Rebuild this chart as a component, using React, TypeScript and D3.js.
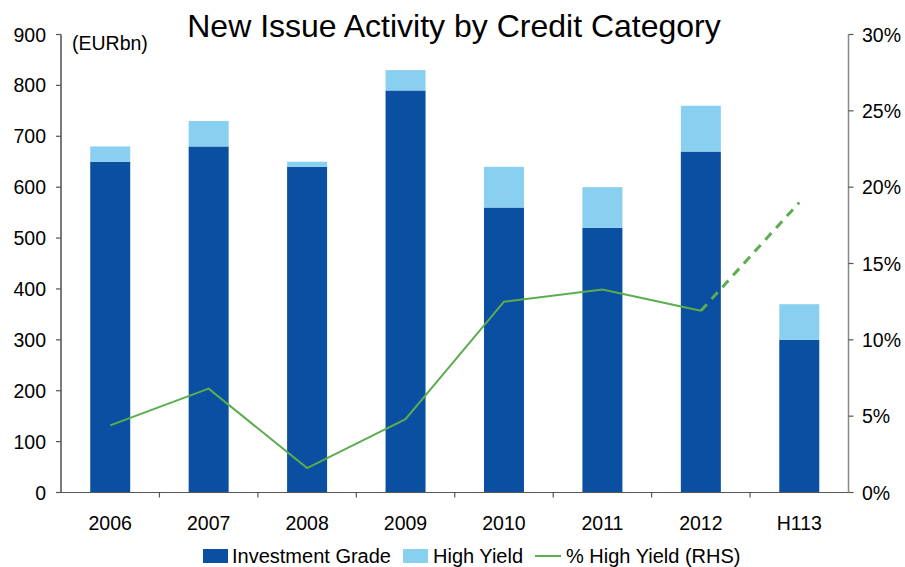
import React from "react";
import * as d3 from "d3";

const categories = ["2006", "2007", "2008", "2009", "2010", "2011", "2012", "H113"];
const investmentGrade = [650, 680, 640, 790, 560, 520, 670, 300];
const highYield = [30, 50, 10, 40, 80, 80, 90, 70];
const pctHighYield = [4.4, 6.8, 1.6, 4.8, 12.5, 13.3, 11.9, 19.0];
const leftTicks = [0, 100, 200, 300, 400, 500, 600, 700, 800, 900];
const rightTicks = [0, 5, 10, 15, 20, 25, 30];

const W = 905, H = 567;
const X0 = 61, X1 = 848.5, Y0 = 492.5, Y1 = 34.5;
const FONT = "Liberation Sans, Arial, sans-serif";
const IG = "#0B4FA2";
const HY = "#89CFF0";
const GREEN = "#5AAE4E";
const FS = 19.5;

export default function App() {
  const x = d3.scaleBand<string>().domain(categories).range([X0, X1]).paddingInner(0).paddingOuter(0);
  const y = d3.scaleLinear().domain([0, 900]).range([Y0, Y1]);
  const yR = d3.scaleLinear().domain([0, 30]).range([Y0, Y1]);
  const bw = 40;
  const cx = (c: string) => (x(c) as number) + x.bandwidth() / 2;

  const pts: [number, number][] = categories.map((c, i) => [cx(c), yR(pctHighYield[i])]);
  const line = d3.line();
  const solid = line(pts.slice(0, 7)) as string;
  const dashed = line(pts.slice(6)) as string;

  return (
    <svg width={W} height={H} style={{ position: "absolute", left: 0, top: 0, background: "#fff" }} fontFamily={FONT}>
      <text x={454} y={37} textAnchor="middle" fontSize={32} fill="#000">New Issue Activity by Credit Category</text>
      <text x={72} y={50} fontSize={FS} fill="#000">(EURbn)</text>
      {categories.map((c, i) => (
        <g key={c}>
          <rect x={cx(c) - bw / 2} y={y(investmentGrade[i])} width={bw} height={Y0 - y(investmentGrade[i])} fill={IG} />
          <rect x={cx(c) - bw / 2} y={y(investmentGrade[i] + highYield[i])} width={bw} height={y(investmentGrade[i]) - y(investmentGrade[i] + highYield[i])} fill={HY} />
        </g>
      ))}
      <path d={solid} fill="none" stroke={GREEN} strokeWidth={2} />
      <path d={dashed} fill="none" stroke={GREEN} strokeWidth={3} strokeDasharray="9,7" />
      {/* left axis */}
      <line x1={X0} x2={X0} y1={Y1} y2={Y0} stroke="#222" strokeWidth={1.2} />
      {leftTicks.map(t => (
        <g key={t}>
          <line x1={X0 - 5} x2={X0} y1={y(t)} y2={y(t)} stroke="#555" strokeWidth={1.2} />
          <text x={46} y={y(t) + 7} textAnchor="end" fontSize={FS} fill="#000">{t}</text>
        </g>
      ))}
      {/* right axis */}
      <line x1={X1} x2={X1} y1={Y1} y2={Y0} stroke="#888" strokeWidth={1.5} />
      {rightTicks.map(t => (
        <g key={t}>
          <line x1={X1} x2={X1 + 5} y1={yR(t)} y2={yR(t)} stroke="#555" strokeWidth={1.2} />
          <text x={862} y={yR(t) + 7} textAnchor="start" fontSize={FS} fill="#000">{t}%</text>
        </g>
      ))}
      {/* bottom axis */}
      <line x1={X0} x2={X1} y1={Y0} y2={Y0} stroke="#555" strokeWidth={1.2} />
      {categories.map((c, i) => (
        <g key={c}>
          {i > 0 && <line x1={x(c) as number} x2={x(c) as number} y1={Y0} y2={Y0 + 5} stroke="#555" strokeWidth={1.2} />}
          <text x={cx(c)} y={530} textAnchor="middle" fontSize={FS} fill="#000">{c}</text>
        </g>
      ))}
      {/* legend */}
      <rect x={203} y={549} width={25} height={14} fill={IG} />
      <text x={232} y={563} fontSize={20} fill="#000">Investment Grade</text>
      <rect x={403} y={549} width={25} height={14} fill={HY} />
      <text x={433} y={563} fontSize={20} fill="#000">High Yield</text>
      <line x1={535} x2={561} y1={556} y2={556} stroke={GREEN} strokeWidth={2} />
      <text x={566} y={563} fontSize={20} fill="#000">% High Yield (RHS)</text>
    </svg>
  );
}
